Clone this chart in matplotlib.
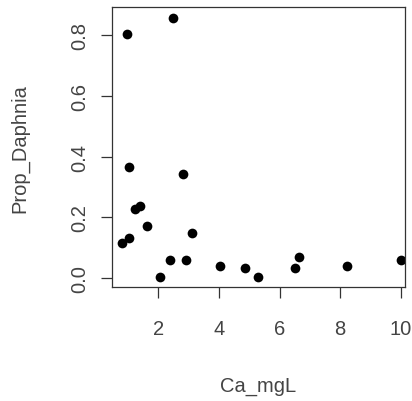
import matplotlib
matplotlib.use("Agg")
import matplotlib.pyplot as plt

# values
ca_mgL = [0.98, 2.50, 1.02, 2.83, 1.24, 1.41, 1.62, 0.81, 1.02, 3.11,
          2.39, 2.91, 2.06, 4.04, 4.85, 5.28, 6.52, 6.65, 8.22, 10.0]
prop_daphnia = [0.804, 0.855, 0.367, 0.343, 0.228, 0.237, 0.171, 0.115, 0.132, 0.148,
                0.060, 0.060, 0.005, 0.041, 0.033, 0.005, 0.033, 0.069, 0.041, 0.060]
xticks = [2, 4, 6, 8, 10]
yticks = [0.0, 0.2, 0.4, 0.6, 0.8]
ytick_labels = ["0.0", "0.2", "0.4", "0.6", "0.8"]

plt.rcParams['font.family'] = ['Liberation Sans', 'DejaVu Sans']
txt = '#444444'

fig = plt.figure(figsize=(4.12, 4.02), dpi=100)
ax = fig.add_axes([0.271, 0.2836, 0.712, 0.6954])

ax.plot(ca_mgL, prop_daphnia, 'o', color='black', markersize=7, markeredgewidth=0)

ax.set_xlim(0.46, 10.14)
ax.set_ylim(-0.029, 0.891)
ax.set_xticks(xticks)
ax.set_xticklabels([str(t) for t in xticks])
ax.set_yticks(yticks)
ax.set_yticklabels(ytick_labels, rotation=90, va='center')

for s in ax.spines.values():
    s.set_linewidth(0.9)
    s.set_color('#333333')

ax.tick_params(axis='both', length=8, width=0.9, color='#333333', labelsize=14.5, labelcolor=txt)
ax.tick_params(axis='x', pad=15)
ax.tick_params(axis='y', pad=8)

ax.set_xlabel('Ca_mgL', fontsize=14.5, color=txt)
ax.set_ylabel('Prop_Daphnia', fontsize=14.5, color=txt)
ax.xaxis.set_label_coords(0.5, -0.354)
ax.yaxis.set_label_coords(-0.313, 0.5)
ax.xaxis.label.set_va('center')
ax.yaxis.label.set_va('center')

fig.savefig('out.png', dpi=100)
